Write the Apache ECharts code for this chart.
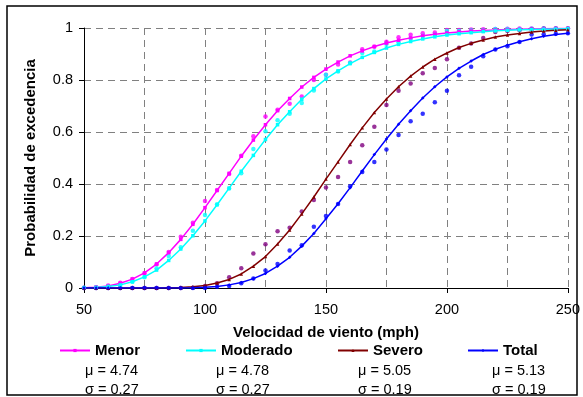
<!DOCTYPE html>
<html>
<head>
<meta charset="utf-8">
<script src="https://cdn.jsdelivr.net/npm/echarts@6/dist/echarts.min.js"></script>
<style>
html,body{margin:0;padding:0;background:#fff;}
#chart{width:583px;height:397px;}
</style>
</head>
<body>
<div id="chart"></div>
<script>
// Wind speed (mph) sample points
const speeds = [50,55,60,65,70,75,80,85,90,95,100,105,110,115,120,125,130,135,140,145,150,155,160,165,170,175,180,185,190,195,200,205,210,215,220,225,230,235,240,245,250];

// Fitted curves (lines)
const menorFit = [0.001,0.003,0.008,0.018,0.034,0.058,0.092,0.136,0.187,0.245,0.309,0.375,0.441,0.507,0.569,0.628,0.682,0.729,0.773,0.810,0.842,0.869,0.893,0.912,0.929,0.942,0.953,0.962,0.970,0.976,0.981,0.985,0.988,0.990,0.992,0.994,0.995,0.996,0.997,0.998,0.998];
const moderadoFit = [0.001,0.002,0.006,0.012,0.024,0.043,0.069,0.106,0.150,0.201,0.258,0.320,0.384,0.449,0.510,0.571,0.628,0.678,0.726,0.767,0.804,0.835,0.863,0.887,0.906,0.923,0.937,0.948,0.958,0.966,0.973,0.978,0.982,0.986,0.989,0.991,0.993,0.994,0.995,0.996,0.997];
const severoFit = [0,0,0,0,0,0,0,0.001,0.002,0.005,0.010,0.019,0.033,0.054,0.084,0.121,0.169,0.223,0.285,0.350,0.419,0.485,0.552,0.616,0.675,0.727,0.774,0.815,0.850,0.880,0.904,0.925,0.941,0.954,0.965,0.973,0.979,0.985,0.988,0.991,0.993];
const totalFit = [0,0,0,0,0,0,0,0,0,0.001,0.003,0.006,0.012,0.021,0.036,0.056,0.084,0.118,0.161,0.210,0.266,0.324,0.386,0.450,0.513,0.573,0.630,0.682,0.731,0.774,0.812,0.845,0.873,0.898,0.918,0.934,0.947,0.959,0.968,0.975,0.980];

// Observed points (dots)
const menorObs = [0.001,0.003,0.010,0.020,0.035,0.056,0.091,0.138,0.197,0.251,0.335,0.377,0.438,0.509,0.584,0.660,0.686,0.709,0.737,0.800,0.820,0.860,0.867,0.918,0.928,0.947,0.964,0.974,0.980,0.983,0.992,0.992,0.994,0.995,0.996,0.997,0.998,0.998,0.999,0.999,0.999];
const moderadoObs = [0.001,0.002,0.006,0.012,0.024,0.041,0.076,0.123,0.157,0.220,0.281,0.322,0.383,0.441,0.535,0.603,0.645,0.670,0.712,0.760,0.820,0.833,0.865,0.904,0.910,0.938,0.945,0.960,0.970,0.975,0.988,0.988,0.990,0.990,0.996,0.996,0.996,0.997,0.998,0.998,0.998];
const severoObs = [0,0,0,0,0,0,0,0,0,0.001,0.008,0.018,0.041,0.076,0.133,0.168,0.218,0.232,0.294,0.338,0.387,0.427,0.485,0.549,0.620,0.704,0.759,0.787,0.826,0.846,0.880,0.924,0.940,0.962,0.985,0.988,0.991,0.995,0.997,0.997,0.997];
const totalObs = [0,0,0,0,0,0,0,0,0,0,0,0.005,0.008,0.018,0.037,0.067,0.092,0.144,0.164,0.236,0.277,0.323,0.391,0.446,0.485,0.533,0.588,0.641,0.670,0.714,0.759,0.818,0.851,0.891,0.917,0.930,0.946,0.975,0.976,0.978,0.980];

// Legend / parameter labels
const seriesNames = ['Menor','Moderado','Severo','Total'];
const muLabels = ['μ = 4.74','μ = 4.78','μ = 5.05','μ = 5.13'];
const sigmaLabels = ['σ = 0.27','σ = 0.27','σ = 0.19','σ = 0.19'];

const lineColors = ['#FF00FF','#00FFFF','#800000','#0000FF'];
const dotColors = ['#FF00FF','#00FFFF','#800080','#0000FF'];
const symbols = ['rect','rect','triangle','diamond'];
const fits = [menorFit, moderadoFit, severoFit, totalFit];
const obs = [menorObs, moderadoObs, severoObs, totalObs];

const FONT = '"Liberation Sans", Arial, sans-serif';
const pairs = arr => speeds.map((s,i)=>[s, arr[i]]);

const series = [];
obs.forEach((o,i)=>{
  series.push({
    name: seriesNames[i] + ' obs',
    type: 'scatter',
    data: pairs(o),
    symbol: 'circle',
    symbolSize: 4.5,
    itemStyle: {color: dotColors[i]},
    z: 2,
    silent: true
  });
});
fits.forEach((f,i)=>{
  series.push({
    name: seriesNames[i],
    type: 'line',
    data: pairs(f),
    symbol: symbols[i],
    symbolSize: 3.5,
    showAllSymbol: true,
    lineStyle: {color: lineColors[i], width: 1.5},
    itemStyle: {color: lineColors[i]},
    z: 3,
    silent: true
  });
});

const legendLefts = [59, 185, 337, 467];
const legends = seriesNames.map((n,i)=>({
  data: [n],
  left: legendLefts[i],
  top: 343,
  padding: 0,
  itemWidth: 30,
  itemHeight: 4,
  itemGap: 5,
  selectedMode: false,
  textStyle: {fontFamily: FONT, fontSize: 15, fontWeight: 'bold', color: '#000'}
}));

const paramLefts = [85, 216, 358, 492];
const graphics = [{
  type: 'rect',
  shape: {x: 7, y: 6, width: 570, height: 389},
  style: {fill: 'none', stroke: '#000', lineWidth: 1.5},
  silent: true
}];
paramLefts.forEach((x,i)=>{
  graphics.push({type:'text', x: x, y: 371, style:{text: muLabels[i], font: '14.5px ' + FONT, fill:'#000', verticalAlign:'middle'}});
  graphics.push({type:'text', x: x, y: 390, style:{text: sigmaLabels[i], font: '14.5px ' + FONT, fill:'#000', verticalAlign:'middle'}});
});

const option = {
  animation: false,
  backgroundColor: '#fff',
  grid: {left: 84, right: 13, top: 28, bottom: 109, containLabel: false},
  xAxis: {
    type: 'value', min: 50, max: 250, interval: 50,
    name: 'Velocidad de viento (mph)', nameLocation: 'middle', nameGap: 37,
    nameTextStyle: {fontFamily: FONT, fontSize: 15, fontWeight: 'bold', color: '#000'},
    axisLine: {show: true, onZero: false, lineStyle: {color: '#000', width: 1}},
    axisTick: {show: true, length: 5, lineStyle: {color: '#000'}},
    axisLabel: {margin: 14, fontFamily: FONT, fontSize: 14.5, color: '#000'},
    splitLine: {show: true, lineStyle: {type: [7,5], color: '#808080', width: 1}},
    minorTick: {show: false, splitNumber: 2},
    minorSplitLine: {show: true, lineStyle: {type: [7,5], color: '#808080', width: 1}}
  },
  yAxis: {
    type: 'value', min: 0, max: 1, interval: 0.2,
    name: 'Probabilidad de excedencia', nameLocation: 'middle', nameGap: 46,
    nameTextStyle: {fontFamily: FONT, fontSize: 15, fontWeight: 'bold', color: '#000'},
    axisLine: {show: true, onZero: false, lineStyle: {color: '#000', width: 1}},
    axisTick: {show: true, length: 5, lineStyle: {color: '#000'}},
    axisLabel: {margin: 11, fontFamily: FONT, fontSize: 14.5, color: '#000'},
    splitLine: {show: true, lineStyle: {type: [7,5], color: '#808080', width: 1}}
  },
  legend: legends,
  graphic: graphics,
  series: series
};

const chart = echarts.init(document.getElementById('chart'), null, {renderer: 'canvas'});
chart.setOption(option);
</script>
</body>
</html>
